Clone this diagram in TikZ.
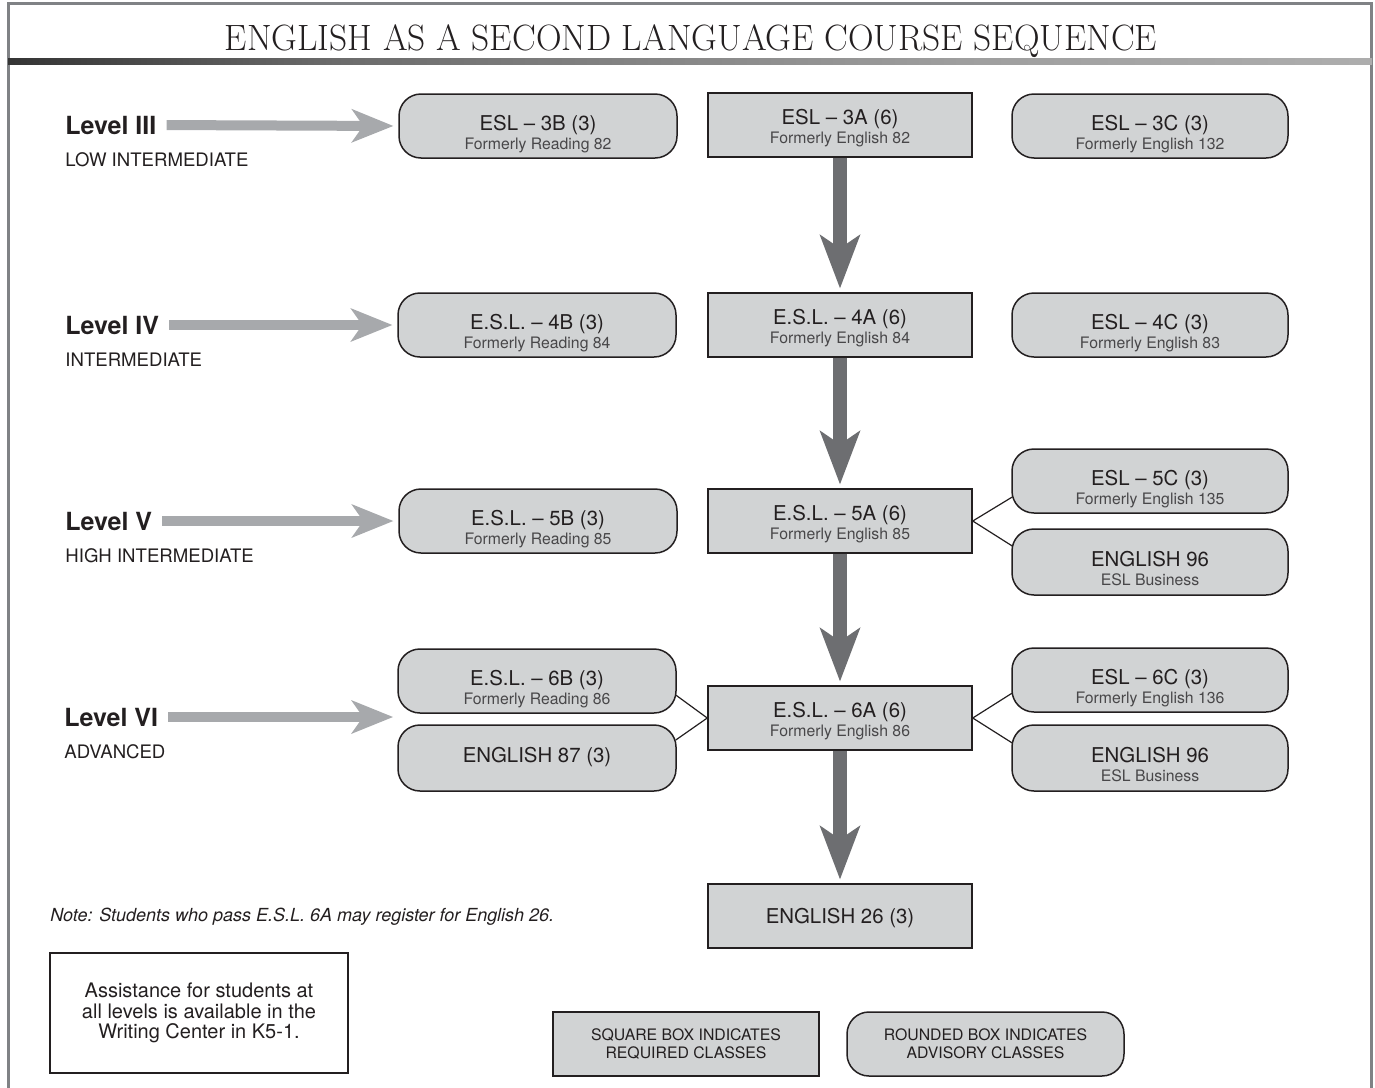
\documentclass[tikz,border=0pt]{standalone}
\usepackage{fontspec}
\usepackage{graphicx}
\newfontfamily\hv[Ligatures=TeX]{TeX Gyre Heros}
\usetikzlibrary{arrows.meta,calc}
\definecolor{boxfill}{RGB}{209,211,212}
\definecolor{ink}{RGB}{35,31,32}
\definecolor{subink}{RGB}{72,71,73}
\definecolor{lvlarrow}{RGB}{167,169,172}
\definecolor{vertarrow}{RGB}{109,110,113}
\definecolor{framec}{RGB}{128,130,133}
\pgfdeclarehorizontalshading{titleline}{100bp}{color(0bp)=(black);color(18bp)=(black!92);color(37bp)=(black!58);color(60bp)=(black!38);color(100bp)=(black!22)}
\tikzset{
  sqbox/.style={draw=ink, line width=0.75pt, fill=boxfill, minimum width=132pt, minimum height=32pt, inner sep=0pt},
  rdbox/.style={sqbox, rounded corners=11pt, minimum width=139pt},
  rtbox/.style={rdbox, minimum width=138pt},
  maintxt/.style={font=\hv\fontsize{10.2}{12}\selectfont, text=ink, anchor=base, inner sep=0pt},
  subtxt/.style={font=\hv\fontsize{7.9}{9}\selectfont, text=subink, anchor=base, inner sep=0pt},
  lvltxt/.style={font=\hv\bfseries\fontsize{12.5}{14}\selectfont, text=ink, anchor=west, inner sep=0pt},
  lvlsub/.style={font=\hv\fontsize{9.3}{11}\selectfont, text=ink, anchor=base west, inner sep=0pt},
  lvlarr/.style={draw=lvlarrow, line width=5pt, -{Stealth[length=21pt,width=17pt,inset=6pt,line width=0pt]}, shorten <=5pt, shorten >=2.5pt},
  vertarr/.style={draw=vertarrow, line width=7pt, -{Stealth[length=27pt,width=20.5pt,inset=7pt,line width=0pt]}, shorten >=2pt},
  thin/.style={draw=ink, line width=0.6pt},
  legendtxt/.style={font=\hv\fontsize{7.9}{9}\selectfont, text=ink, align=center},
}
\newcommand{\sqcourse}[5]{%
  \node[sqbox] (#1) at (#2,#3) {};
  \node[maintxt] (#1m) at (#2,#3-0.5) {#4};
  \node[subtxt] (#1s) at (#2,#3+18) {#5};}
\newcommand{\rdcourse}[6]{%
  \node[#1] (#2) at (#3,#4) {};
  \node[maintxt] (#2m) at (#3,#4+4) {#5};
  \node[subtxt] (#2s) at (#3,#4+23) {#6};}
\begin{document}
\begin{tikzpicture}[x=0.5pt,y=-0.5pt]
\useasboundingbox (0,0) rectangle (1375,1087);
% frame
\draw[framec, line width=1.5pt] (8.5,1090) -- (8.5,3.5) -- (1371.5,3.5) -- (1371.5,1090);
% title
\node[anchor=base, inner sep=0pt, font=\fontsize{18.3}{20}\selectfont, text=ink] (title) at (691,50)
  {\scalebox{0.97}[1]{ENGLISH AS A SECOND LANGUAGE COURSE SEQUENCE}};
\shade[shading=titleline] (8,58) rectangle (1372,64);

% level III
\node[lvltxt] (lvl3) at (65,125) {Level III};
\node[lvlsub] (lvl3s) at (65,166) {LOW INTERMEDIATE};
\rdcourse{rdbox}{b3}{538}{126}{ESL \textendash\ 3B (3)}{Formerly Reading 82}
\sqcourse{a3}{840}{125}{ESL \textendash\ 3A (6)}{Formerly English 82}
\rdcourse{rtbox}{c3}{1150}{126}{ESL \textendash\ 3C (3)}{Formerly English 132}

% level IV
\node[lvltxt] (lvl4) at (65,325) {Level IV};
\node[lvlsub] (lvl4s) at (65,366) {INTERMEDIATE};
\rdcourse{rdbox}{b4}{537}{325}{E.S.L. \textendash\ 4B (3)}{Formerly Reading 84}
\sqcourse{a4}{840}{325}{E.S.L. \textendash\ 4A (6)}{Formerly English 84}
\rdcourse{rtbox}{c4}{1150}{325}{ESL \textendash\ 4C (3)}{Formerly English 83}

% level V
\node[lvltxt] (lvl5) at (65,521) {Level V};
\node[lvlsub] (lvl5s) at (65,562) {HIGH INTERMEDIATE};
\rdcourse{rdbox}{b5}{538}{521}{E.S.L. \textendash\ 5B (3)}{Formerly Reading 85}
\sqcourse{a5}{840}{521}{E.S.L. \textendash\ 5A (6)}{Formerly English 85}
\rdcourse{rtbox}{c5}{1150}{481}{ESL \textendash\ 5C (3)}{Formerly English 135}
\rdcourse{rtbox, minimum height=33pt}{e5}{1150}{562}{ENGLISH 96}{ESL Business}

% level VI
\node[lvltxt] (lvl6) at (64,717) {Level VI};
\node[lvlsub] (lvl6s) at (64,758) {ADVANCED};
\rdcourse{rdbox}{b6}{537}{681}{E.S.L. \textendash\ 6B (3)}{Formerly Reading 86}
\node[rdbox, minimum height=33pt] (e87) at (537,758) {};
\node[maintxt] (e87m) at (537,762.5) {ENGLISH 87 (3)};
\sqcourse{a6}{840}{718}{E.S.L. \textendash\ 6A (6)}{Formerly English 86}
\rdcourse{rtbox}{c6}{1150}{680}{ESL \textendash\ 6C (3)}{Formerly English 136}
\rdcourse{rtbox, minimum height=33pt}{e6}{1150}{758}{ENGLISH 96}{ESL Business}
\coordinate (v6) at (398,717);

% English 26
\node[sqbox] (e26) at (840,916) {};
\node[maintxt] (e26m) at (840,923.5) {ENGLISH 26 (3)};

% level arrows
\draw[lvlarr] (lvl3.east) -- (b3.west);
\draw[lvlarr] (lvl4.east) -- (b4.west);
\draw[lvlarr] (lvl5.east) -- (b5.west);
\draw[lvlarr] (lvl6.east) -- (v6);

% vertical arrows
\draw[vertarr] (a3.south) -- (a4.north);
\draw[vertarr] (a4.south) -- (a5.north);
\draw[vertarr] (a5.south) -- (a6.north);
\draw[vertarr] (a6.south) -- (e26.north);

% thin connectors
\draw[thin] (a5.east) -- ($(c5.west)+(1,16)$);
\draw[thin] (a5.east) -- ($(e5.west)+(1,-16)$);
\draw[thin] (a6.east) -- ($(c6.west)+(1,13)$);
\draw[thin] (a6.east) -- ($(e6.west)+(1,-15)$);
\draw[thin] (a6.west) -- ($(b6.east)+(-1,14)$);
\draw[thin] (a6.west) -- ($(e87.east)+(-1,-18)$);

% note
\node[anchor=base west, inner sep=0pt, font=\hv\itshape\fontsize{9}{11}\selectfont, text=ink] (note) at (50,921)
  {Note: Students who pass E.S.L. 6A may register for English 26.};

% assistance box
\node[draw=ink, line width=0.75pt, minimum width=149pt, minimum height=60pt, inner sep=0pt, align=center,
  font=\hv\fontsize{10}{10.3}\selectfont, text=ink] (assist) at (199,1013)
  {Assistance for students at\\all levels is available in the\\Writing Center in K5-1.};

% legend
\node[sqbox, minimum width=133pt, legendtxt] (legsq) at (686,1044) {SQUARE BOX INDICATES\\REQUIRED CLASSES};
\node[rdbox, minimum width=138.5pt, legendtxt] (legrd) at (985.5,1044) {ROUNDED BOX INDICATES\\ADVISORY CLASSES};
\end{tikzpicture}
\end{document}
